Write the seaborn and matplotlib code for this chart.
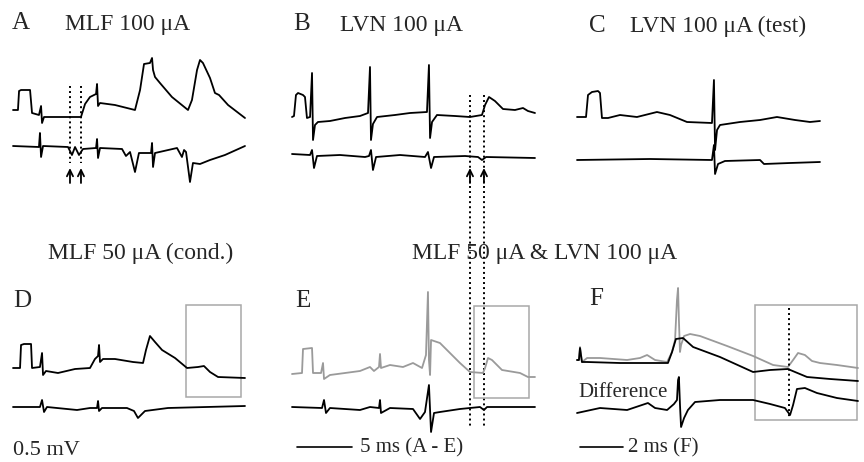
import matplotlib
matplotlib.use("Agg")
import matplotlib.pyplot as plt
import seaborn as sns
from matplotlib.patches import Rectangle

sns.set_style("white")
plt.rcParams["font.family"] = ["Liberation Serif", "DejaVu Serif"]

# ---------------- data (time in ms, potential in mV, relative to each trace baseline) -------------
# Panel A: MLF 100 uA
A_top_t = [0, 0.45, 0.55, 0.73, 1.55, 1.73, 2.36, 2.55, 2.64, 2.82, 4.27, 6.18, 6.55, 7.0, 7.55, 7.64, 7.73,
           7.91, 9.27, 11.09, 11.55, 11.91, 12.45, 12.64, 12.73, 12.91, 13.36, 14.45, 15.91, 16.27, 16.73,
           17.0, 17.27, 17.91, 18.36, 18.73, 19.55, 21.09]
A_top_v = [0.07, 0.07, 0.26, 0.27, 0.27, 0.04, 0.02, 0.11, -0.06, 0.0, 0.0, 0.0, 0.13, 0.20, 0.23, 0.33, 0.11,
           0.14, 0.12, 0.07, 0.27, 0.53, 0.54, 0.59, 0.47, 0.40, 0.34, 0.20, 0.07, 0.17, 0.47,
           0.57, 0.54, 0.39, 0.24, 0.22, 0.12, -0.01]
A_bot_t = [0, 2.36, 2.45, 2.55, 2.73, 5.0, 5.36, 5.64, 6.0, 6.36, 7.55, 7.64, 7.73, 7.91, 9.91, 10.27, 10.64,
           11.09, 11.45, 12.55, 12.64, 12.73, 12.91, 14.91, 15.36, 15.55, 15.73, 16.09, 16.36, 17.0, 17.91,
           19.27, 21.09]
A_bot_v = [0, -0.01, 0.13, -0.11, 0, -0.01, -0.09, -0.01, -0.09, -0.03, -0.02, 0.07, -0.12, -0.02, -0.03,
           -0.10, -0.06, -0.26, -0.07, -0.07, 0.03, -0.21, -0.07, -0.02, -0.11, -0.04, -0.06, -0.36, -0.17,
           -0.18, -0.14, -0.09, 0.0]

# Panel B: LVN 100 uA
B_top_t = [0, 0.18, 0.36, 0.55, 1.0, 1.18, 1.36, 1.64, 1.82, 1.91, 2.09, 2.36, 3.45, 4.82, 6.18, 6.91, 7.09,
           7.18, 7.36, 7.73, 9.36, 10.73, 12.27, 12.45, 12.55, 12.73, 13.18, 14.82, 16.18, 17.27, 17.55,
           17.91, 18.45, 19.18, 20.27, 21.0, 21.45, 22.09]
B_top_v = [0, 0.01, 0.22, 0.24, 0.22, 0.20, -0.01, 0, 0.44, -0.23, -0.08, -0.05, -0.04, -0.01, 0.01, 0.04,
           0.50, -0.23, -0.07, 0, 0.02, 0.04, 0.05, 0.52, -0.21, -0.05, 0.02, 0.01, 0, 0.02, 0.12,
           0.20, 0.16, 0.08, 0.07, 0.09, 0.06, 0.04]
B_bot_t = [0, 1.64, 1.82, 2.0, 2.27, 4.36, 6.64, 7.0, 7.18, 7.36, 7.64, 9.82, 12.09, 12.36, 12.64, 12.91,
           15.73, 16.91, 17.27, 17.64, 22.09]
B_bot_v = [0.01, 0, 0.05, -0.13, -0.01, 0, -0.02, -0.01, 0.05, -0.15, -0.02, 0, -0.02, 0.03, -0.13, -0.02,
           -0.01, -0.02, -0.05, -0.02, -0.03]

# Panel C: LVN 100 uA (test)
C_top_t = [0, 0.82, 1.0, 1.36, 1.91, 2.09, 2.27, 2.82, 3.91, 5.45, 7.27, 8.45, 10.0, 12.27, 12.45, 12.55,
           12.73, 13.0, 14.82, 16.64, 18.18, 19.82, 21.18, 22.09]
C_top_v = [0, 0, 0.22, 0.25, 0.26, 0.24, -0.01, -0.01, 0.02, 0, 0.05, 0.02, -0.05, -0.06, 0.37, -0.33,
           -0.13, -0.08, -0.05, -0.03, 0, -0.03, -0.05, -0.04]
C_bot_t = [0, 6.64, 12.27, 12.45, 12.55, 12.82, 13.45, 16.64, 17.0, 19.36, 22.09]
C_bot_v = [0, 0.01, 0, 0.15, -0.14, -0.04, -0.01, 0, -0.04, -0.03, -0.02]

# Panel D: MLF 50 uA (conditioning)
D_top_t = [0, 0.64, 0.73, 1.0, 1.64, 1.73, 2.45, 2.64, 2.73, 3.0, 4.09, 5.64, 7.0, 7.45, 7.73, 7.82, 7.91,
           8.18, 9.27, 10.91, 11.82, 12.09, 12.45, 12.91, 13.55, 14.73, 15.82, 16.82, 17.36, 17.91, 18.64,
           21.09]
D_top_v = [0, 0, 0.23, 0.24, 0.24, 0, 0.01, 0.15, -0.07, -0.03, -0.05, -0.01, 0, 0.09, 0.12, 0.23, 0.06,
           0.09, 0.09, 0.06, 0.05, 0.18, 0.32, 0.26, 0.18, 0.10, 0, 0.01, 0.02, -0.04, -0.09, -0.10]
D_bot_t = [0, 2.45, 2.64, 2.82, 3.09, 5.82, 7.0, 7.64, 7.73, 7.82, 8.09, 10.36, 11.0, 11.36, 12.0, 14.09,
           21.09]
D_bot_v = [0, 0, 0.07, -0.05, 0, -0.03, -0.01, -0.01, 0.06, -0.04, -0.01, -0.01, -0.04, -0.11, -0.04,
           -0.01, 0.01]

# Panel E: MLF 50 uA & LVN 100 uA
E_top_t = [0, 0.91, 1.0, 1.82, 1.91, 2.64, 2.82, 2.91, 3.45, 4.82, 6.18, 7.09, 7.45, 7.91, 8.0, 8.09, 8.91,
           10.09, 11.0, 11.82, 12.18, 12.36, 12.45, 12.55, 12.64, 13.45, 15.27, 16.18, 17.36, 17.55, 17.82,
           18.18, 19.09, 20.73, 21.45, 22.09]
E_top_v = [-0.01, 0, 0.24, 0.25, 0, 0, 0.10, -0.06, -0.02, 0, 0.02, 0.06, 0.02, 0.06, 0.19, 0.05, 0.08,
           0.06, 0.10, 0.05, 0.18, 0.81, 0.13, -0.02, 0.33, 0.30, 0.10, 0.01, 0, 0.05, 0.15,
           0.13, 0.03, 0, -0.04, -0.04]
E_bot_t = [0, 2.73, 2.91, 3.09, 3.45, 6.18, 7.09, 7.91, 8.0, 8.09, 8.91, 11.0, 11.64, 12.09, 12.45, 12.64,
           12.91, 13.45, 15.27, 17.09, 17.45, 17.73, 22.09]
E_bot_v = [0, -0.01, 0.07, -0.06, -0.01, -0.03, 0, -0.01, 0.07, -0.06, -0.01, -0.02, -0.12, -0.05, 0.22,
           -0.25, -0.06, -0.05, -0.02, 0, -0.03, 0, 0]

# Panel F: expanded time base (conditioning+test in grey, conditioning alone in black, difference)
F_test_t = [0, 0.09, 0.14, 0.23, 0.47, 1.07, 2.33, 2.93, 3.26, 3.63, 4.19, 4.42, 4.56, 4.65, 4.70, 4.74,
            4.79, 4.84, 4.98, 5.26, 5.72, 6.98, 8.19, 9.12, 9.81, 10.05, 10.28, 10.60, 10.93, 11.30, 12.09,
            13.07]
F_test_v = [0.02, 0.02, 0.15, 0, 0.04, 0.04, 0.02, 0.04, 0.07, 0.02, 0, 0.10, 0.22, 0.62, 0.74, 0.42,
            0.10, 0.17, 0.26, 0.28, 0.26, 0.16, 0.06, -0.03, -0.05, 0.02, 0.09, 0.07, 0.01, -0.01, -0.03,
            -0.06]
F_cond_t = [0, 0.09, 0.14, 0.23, 0.47, 2.0, 3.86, 4.23, 4.42, 4.60, 4.93, 5.40, 6.65, 8.19, 8.98, 9.81,
            10.14, 10.70, 11.77, 13.07]
F_cond_v = [0.02, 0.02, 0.14, 0, 0, -0.01, -0.01, -0.01, 0.10, 0.23, 0.24, 0.15, 0.05, -0.10, -0.08,
            -0.07, -0.10, -0.15, -0.17, -0.19]
F_diff_t = [0, 1.07, 2.33, 3.30, 3.63, 4.19, 4.51, 4.65, 4.70, 4.74, 4.79, 4.84, 4.98, 5.16, 5.49, 6.65,
            8.19, 8.98, 9.67, 9.91, 10.05, 10.23, 10.60, 11.16, 12.09, 13.07]
F_diff_v = [-0.03, 0.02, 0, 0.07, 0.02, 0, 0.06, 0.10, 0.30, 0.33, 0.05, -0.17, -0.08, 0, 0.08, 0.10,
            0.10, 0.06, 0.02, -0.05, 0.05, 0.21, 0.22, 0.17, 0.12, 0.09]

# markers of latencies (ms) and analysis windows (ms)
A_marks = [5.18, 6.18]
B_marks = [16.18, 17.45]
F_mark = 9.86
D_window = (15.73, 20.73)
E_window = (16.55, 21.55)
F_window = (8.28, 13.02)

# ---------------- figure ----------------
W, H = 864, 462
fig = plt.figure(figsize=(W / 100, H / 100), dpi=100)
GREY = "#9a9a9a"
BOXC = "#a8a8a8"
LW = 1.3
DOT = (0, (1, 1.6))


def panel(x0, x1, ytop, ybot, yref, pxms):
    ax = fig.add_axes([x0 / W, 1 - ybot / H, (x1 - x0) / W, (ybot - ytop) / H])
    ax.set_xlim(0, (x1 - x0) / pxms)
    ax.set_ylim((yref - ybot) / 100, (yref - ytop) / 100)
    ax.axis("off")
    return ax


def trace(ax, t, v, off=0.0, color="black"):
    sns.lineplot(x=t, y=[val + off for val in v], ax=ax, sort=False, estimator=None,
                 color=color, lw=LW, legend=False)
    for ln in ax.lines:
        ln.set_clip_on(False)
        ln.set_solid_joinstyle("round")


def up_arrow(ax, t, v0, v1):
    ax.annotate("", xy=(t, v1), xytext=(t, v0),
                arrowprops=dict(arrowstyle="->,head_length=0.45,head_width=0.22", color="black",
                                lw=1.3, shrinkA=0, shrinkB=0), annotation_clip=False)


def ftext(x, y, s, size=17, **kw):
    fig.text(x / W, 1 - y / H, s, fontsize=size, va="baseline", ha="left", **kw)


axA = panel(13, 248, 40, 200, 117, 11)
axB = panel(292, 540, 40, 200, 117, 11)
axC = panel(577, 830, 40, 200, 117, 11)
axD = panel(13, 248, 280, 462, 368, 11)
axE = panel(292, 540, 280, 462, 373, 11)
axF = panel(577, 862, 280, 462, 362, 21.5)

trace(axA, A_top_t, A_top_v)
trace(axA, A_bot_t, A_bot_v, -0.29)
for m in A_marks:
    axA.plot([m, m], [0.31, -0.46], color="black", lw=1.4, ls=DOT, clip_on=False)
    up_arrow(axA, m, -0.66, -0.51)

trace(axB, B_top_t, B_top_v)
trace(axB, B_bot_t, B_bot_v, -0.38)
for m in B_marks:
    axB.plot([m, m], [0.22, -3.11], color="black", lw=1.4, ls=DOT, clip_on=False)
    up_arrow(axB, m, -0.66, -0.51)

trace(axC, C_top_t, C_top_v)
trace(axC, C_bot_t, C_bot_v, -0.43)

trace(axD, D_top_t, D_top_v)
trace(axD, D_bot_t, D_bot_v, -0.39)
axD.add_patch(Rectangle((D_window[0], -0.29), D_window[1] - D_window[0], 0.92, fill=False,
                        ec=BOXC, lw=1.1, clip_on=False))

trace(axE, E_top_t, E_top_v, color=GREY)
trace(axE, E_bot_t, E_bot_v, -0.34)
axE.add_patch(Rectangle((E_window[0], -0.25), E_window[1] - E_window[0], 0.92, fill=False,
                        ec=BOXC, lw=1.1, clip_on=False))
axE.plot([0.45, 5.45], [-0.74, -0.74], color="black", lw=1.2, clip_on=False)

trace(axF, F_test_t, F_test_v, color=GREY)
trace(axF, F_cond_t, F_cond_v)
trace(axF, F_diff_t, F_diff_v, -0.48)
axF.add_patch(Rectangle((F_window[0], -0.58), F_window[1] - F_window[0], 1.15, fill=False,
                        ec=BOXC, lw=1.1, clip_on=False))
axF.plot([F_mark, F_mark], [0.54, -0.55], color="black", lw=1.4, ls=DOT, clip_on=False)
axF.plot([0.14, 2.14], [-0.85, -0.85], color="black", lw=1.2, clip_on=False)

# ---------------- texts ----------------
ftext(12, 29, "A", size=18)
ftext(65, 30, "MLF 100 \u03bcA")
ftext(293, 30, "B", size=18)
ftext(340, 31, "LVN 100 \u03bcA")
ftext(589, 32, "C", size=18)
ftext(630, 32, "LVN 100 \u03bcA (test)")
ftext(48, 259, "MLF 50 \u03bcA (cond.)")
ftext(412, 259, "MLF 50 \u03bcA & LVN 100 \u03bcA")
ftext(13, 307, "D", size=18)
ftext(295, 307, "E", size=18)
ftext(589, 305, "F", size=18)
ftext(13, 455, "0.5 mV", size=16)
ftext(360, 452, "5 ms (A - E)", size=15)
ftext(628, 452, "2 ms (F)", size=15)
ftext(578, 397, "Difference", size=15)

fig.savefig("out.png", dpi=100)
